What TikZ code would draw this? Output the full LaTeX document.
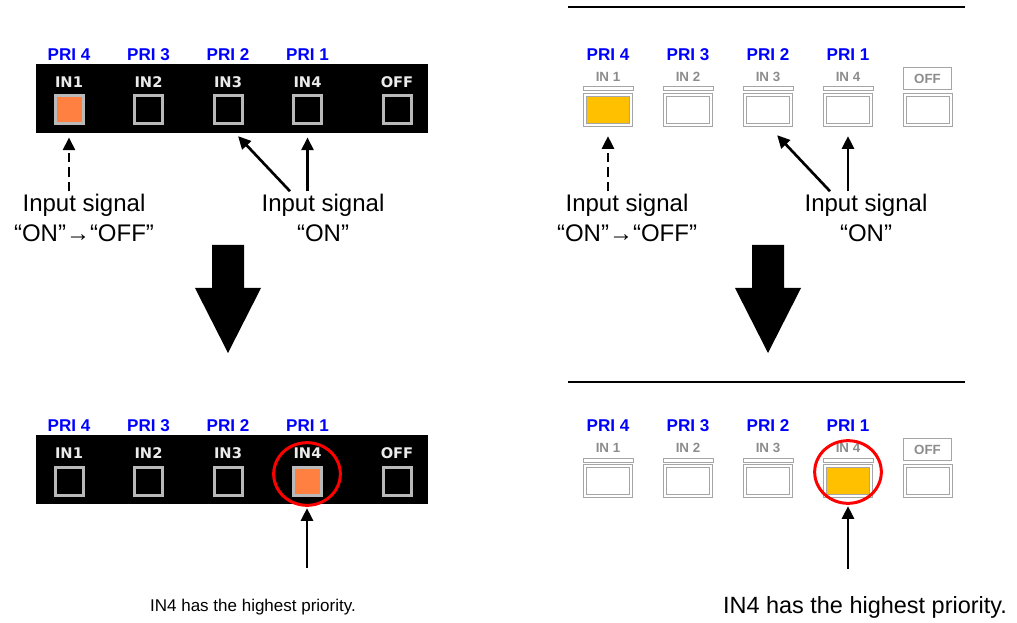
\documentclass[tikz,border=0pt]{standalone}
\usepackage{fontspec}
\setmainfont{Liberation Sans}
\newfontfamily\dejavu{DejaVu Sans}
\usetikzlibrary{arrows.meta,positioning,calc,shapes.geometric}

\definecolor{priblue}{RGB}{0,0,255}
\definecolor{lamporange}{RGB}{255,128,64}
\definecolor{lampamber}{RGB}{255,192,0}
\definecolor{keygray}{RGB}{165,165,165}
\definecolor{bevelgray}{RGB}{185,185,185}
\definecolor{txtgray}{RGB}{140,140,140}

\begin{document}
\begin{tikzpicture}[
  x=0.75pt, y=-0.75pt,
  >={Triangle[width=9pt,length=9.5pt]},
  pri/.style    = {font=\fontsize{12.8}{14}\selectfont\bfseries, text=priblue, inner sep=0pt},
  inlbl/.style  = {font=\dejavu\fontsize{11}{13}\selectfont\bfseries, text=black!8, inner sep=0pt},
  ginlbl/.style = {font=\fontsize{10}{12}\selectfont\bfseries, text=txtgray, inner sep=0pt},
  lkey/.style   = {draw=bevelgray, line width=2.25pt, minimum size=21pt, inner sep=0pt},
  wkey/.style   = {draw=keygray, double=white, double distance=1.2pt, line width=0.75pt,
                   minimum width=34.5pt, minimum height=22.5pt, inner sep=0pt},
  sig/.style    = {font=\fontsize{18}{22.5}\selectfont, align=center, inner sep=2pt},
  note/.style   = {font=\fontsize{12.75}{15}\selectfont, inner sep=0pt},
  ring/.style   = {draw=red, line width=2.25pt, ellipse, minimum width=50pt,
                   minimum height=47pt, inner sep=0pt},
  arr/.style    = {line width=2pt, ->},
]

\useasboundingbox (0,0) rectangle (1017,623);

\foreach \yo/\tag/\on in {0/t/1,371/b/4}{
  \fill[black] (36,64+\yo) rectangle (428,133+\yo);
  \foreach \i/\p in {1/4,2/3,3/2,4/1}{
    \ifnum\i=\on \def\kf{lamporange}\else\def\kf{black}\fi
    \node[pri] (pri-l\tag\i) at ({69+79.5*(\i-1)},55+\yo) {PRI \p};
    \node[inlbl] (lbl-l\tag\i) at ({69+79.5*(\i-1)},82+\yo) {IN\i};
    \node[lkey,fill=\kf] (l\tag\i) at ({69+79.5*(\i-1)},110+\yo) {};
  }
  \node[inlbl] (lbl-l\tag5) at (397,82+\yo) {OFF};
  \node[lkey,fill=black] (l\tag5) at (397,110+\yo) {};
}

\draw[line width=1.5pt] (568,7) -- (965,7);
\draw[line width=1.5pt] (568,382) -- (965,382);

\foreach \yo/\tag/\on in {0/t/1,371/b/4}{
  \foreach \i/\p in {1/4,2/3,3/2,4/1}{
    \ifnum\i=\on \def\kf{lampamber}\else\def\kf{white}\fi
    \node[pri] (pri-r\tag\i) at ({608+80*(\i-1)},55+\yo) {PRI \p};
    \node[ginlbl] (lbl-r\tag\i) at ({608+80*(\i-1)},77+\yo) {IN \i};
    \draw[keygray,fill=white,line width=0.75pt]
      ({583+80*(\i-1)},87+\yo) rectangle ++(50,4);
    \node[wkey,fill=\kf] (r\tag\i) at ({608+80*(\i-1)},110+\yo) {};
  }
  \node[ginlbl,draw=keygray,line width=0.75pt,minimum width=36.5pt,minimum height=17pt]
    (lbl-r\tag5) at (927.5,78.5+\yo) {OFF};
  \node[wkey,fill=white] (r\tag5) at (928,110+\yo) {};
}

\node[sig] (sig-tl) at (84,218)  {Input signal\\“ON”→“OFF”};
\node[sig] (sig-tr) at (323,218) {Input signal\\“ON”};
\node[sig] (sig-rl) at (627,218) {Input signal\\“ON”→“OFF”};
\node[sig] (sig-rr) at (866,218) {Input signal\\“ON”};

\draw[arr,dash pattern=on 7pt off 4pt,shorten >=9pt] (sig-tl.north -| lt1) -- (lt1.south);
\draw[arr,shorten >=11pt] ($(sig-tr.north)+(-33,0)$) -- (lt3.south);
\draw[arr,shorten >=9pt] (sig-tr.north -| lt4) -- (lt4.south);

\draw[arr,dash pattern=on 7pt off 4pt,shorten >=8pt] (sig-rl.north -| rt1) -- (rt1.south);
\draw[arr,shorten >=10pt] ($(sig-rr.north)+(-36,0)$) -- (rt3.south);
\draw[arr,shorten >=8pt] (sig-rr.north -| rt4) -- (rt4.south);

\foreach \cx in {228,768}{
  \fill[black] (\cx-16,245) -- (\cx+16,245) -- (\cx+16,288) -- (\cx+33,288)
    -- (\cx,353) -- (\cx-33,288) -- (\cx-16,288) -- cycle;
}

\node[ring] (ring-l) at (307,474) {};
\node[ring] (ring-r) at (848,472) {};

\node[note] (note-l) at (253,607) {IN4 has the highest priority.};
\node[note,font=\fontsize{17.6}{20}\selectfont] (note-r) at (865,607)
  {IN4 has the highest priority.};

\draw[arr,shorten >=1pt] ($(note-l.north -| ring-l.south)+(0,-31)$) -- (ring-l.south);
\draw[arr,shorten >=1pt] ($(note-r.north -| ring-r.south)+(0,-27)$) -- (ring-r.south);

\end{tikzpicture}
\end{document}
